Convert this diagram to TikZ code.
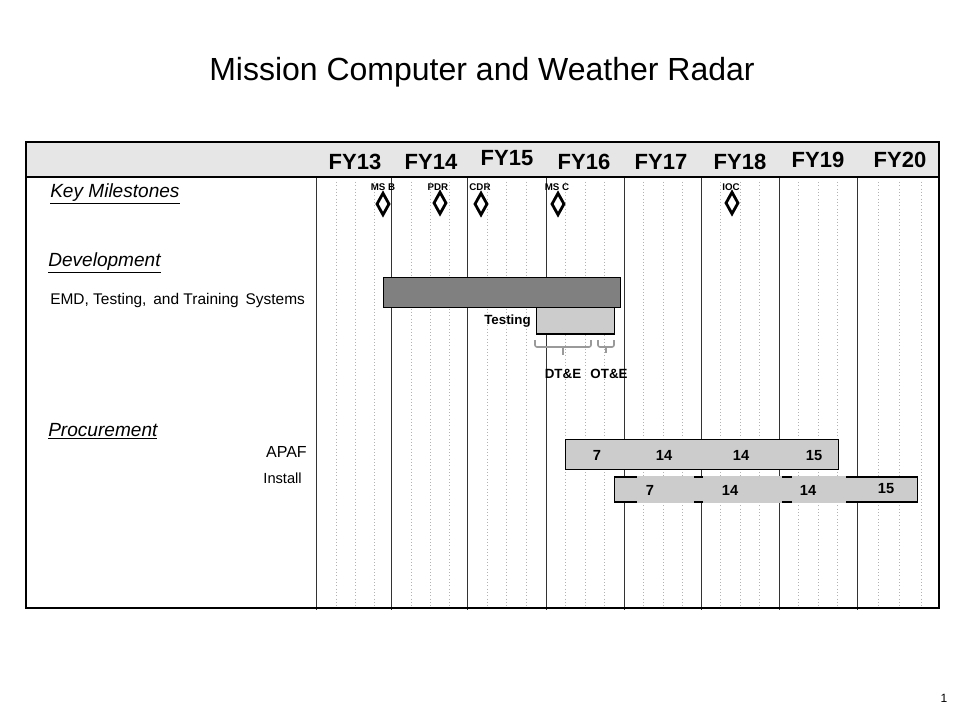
\documentclass[tikz,border=0pt]{standalone}
\usepackage{fontspec}
\setmainfont{Liberation Sans}
\usetikzlibrary{shapes.geometric}
\definecolor{hdr}{HTML}{E6E6E6}
\definecolor{dkbar}{HTML}{808080}
\definecolor{ltbar}{HTML}{CCCCCC}
\definecolor{brc}{HTML}{9A9A9A}
\begin{document}
\begin{tikzpicture}[x=0.75pt,y=-0.75pt,
  frame/.style={draw=black,line width=1.5pt},
  yearline/.style={draw=black!80,line width=0.75pt},
  qline/.style={draw=black!30,dotted,line width=0.5pt},
  fy/.style={font=\bfseries\fontsize{16.5}{18}\selectfont,inner sep=0pt},
  mslabel/.style={font=\bfseries\fontsize{7.3}{8}\selectfont,inner sep=0pt},
  msd/.style={diamond,draw=black,fill=white,line width=2.1pt,inner sep=0pt,aspect=0.5,minimum width=9.8pt,minimum height=17pt},
  sect/.style={font=\itshape\fontsize{14.3}{16}\selectfont,anchor=west,inner sep=0pt},
  rowlbl/.style={font=\fontsize{11.6}{13}\selectfont,inner sep=0pt},
  barline/.style={draw=black,line width=0.9pt},
  num/.style={font=\bfseries\fontsize{11}{12}\selectfont,inner sep=0pt,anchor=base},
  blbl/.style={font=\bfseries\fontsize{10}{12}\selectfont,inner sep=0pt},
  brace/.style={draw=brc,line width=1.2pt,rounded corners=1.5pt}]
\useasboundingbox (0,0) rectangle (960,720);
\fill[white] (0,0) rectangle (960,720);

% title
\node[font=\fontsize{24}{28}\selectfont,inner sep=0pt] (title) at (482,72) {Mission Computer and Weather Radar};

% header band
\fill[hdr] (25.5,142.5) rectangle (938.5,177.5);

% quarter lines
\foreach \q in {336,355,374.5,411,430,449,487,506.5,526,565.5,585,604.5,643.5,663,682,720.5,740,759.5,798.5,818,837.5,878,899,921}
  \draw[qline] (\q,182) -- (\q,607);
% year lines
\foreach \yx in {316.5,391.5,467.5,546,624,701,779,857}
  \draw[yearline] (\yx,177.5) -- (\yx,610);

% FY labels
\node[fy] (fy13) at (355,162) {FY13};
\node[fy] (fy14) at (431,162) {FY14};
\node[fy] (fy15) at (507,158) {FY15};
\node[fy] (fy16) at (584,162) {FY16};
\node[fy] (fy17) at (661,162) {FY17};
\node[fy] (fy18) at (740,162) {FY18};
\node[fy] (fy19) at (818,160) {FY19};
\node[fy] (fy20) at (900,160) {FY20};

% section labels
\node[sect] (km) at (50,194) {\underline{Key Milestones}};
\node[sect] (dev) at (48,263) {\underline{Development}};
\node[rowlbl,anchor=west] (emd) at (50,301) {EMD, Testing,\, and Training\, Systems};
\node[sect] (proc) at (48,431) {\underline{Procurement}};
\node[rowlbl,anchor=east,font=\fontsize{12}{13}\selectfont] (apaf) at (307,452) {APAF};
\node[rowlbl,anchor=east,font=\fontsize{11}{13}\selectfont] (inst) at (302,478) {Install};

% milestones
\node[mslabel] (lmsb) at (383,187) {MS B};
\node[mslabel] (lpdr) at (438,187) {PDR};
\node[mslabel] (lcdr) at (480,187) {CDR};
\node[mslabel] (lmsc) at (557,187) {MS C};
\node[mslabel] (lioc) at (731,187) {IOC};
\node[msd] (msb) at (383,204) {};
\node[msd] (pdr) at (440,203) {};
\node[msd] (cdr) at (481,204) {};
\node[msd] (msc) at (558,204) {};
\node[msd] (ioc) at (732,203) {};

% development bars
\draw[barline,fill=dkbar] (383.5,277.5) rectangle (620.5,307.5);
\draw[barline,fill=ltbar] (536.5,307.5) rectangle (614.5,334);
\node[blbl,anchor=east] (testing) at (531,321.5) {Testing};

% braces
\draw[brace] (535,340) -- (535,347) -- (591,347) -- (591,340);
\draw[brace] (563,347) -- (563,355);
\draw[brace] (598,340) -- (598,347) -- (614,347) -- (614,340);
\draw[brace] (606,347) -- (606,353);
\node[blbl] (dte) at (563,374) {DT\&E};
\node[blbl] (ote) at (609,374) {OT\&E};

% APAF bar
\draw[barline,fill=ltbar] (565.5,439.5) rectangle (838.5,469.5);
\node[num] (a1) at (597,460.5) {7};
\node[num] (a2) at (664,460.5) {14};
\node[num] (a3) at (741,460.5) {14};
\node[num] (a4) at (814,460.5) {15};

% Install bar
\draw[barline,fill=ltbar] (614.5,477) rectangle (917.5,502);
\fill[ltbar] (637,475.6) rectangle (694,503.4);
\fill[ltbar] (703,475.6) rectangle (782,503.4);
\fill[ltbar] (792,475.6) rectangle (846,503.4);
\node[num] (i1) at (650,495) {7};
\node[num] (i2) at (730,495) {14};
\node[num] (i3) at (808,495) {14};
\node[num] (i4) at (886,493.5) {15};

% frame
\draw[frame] (25.5,142.5) rectangle (938.5,607.5);
\draw[frame] (25.5,177.5) -- (938.5,177.5);

% page number
\node[font=\fontsize{9}{10}\selectfont,inner sep=0pt] (pg) at (944,698) {1};
\end{tikzpicture}
\end{document}
